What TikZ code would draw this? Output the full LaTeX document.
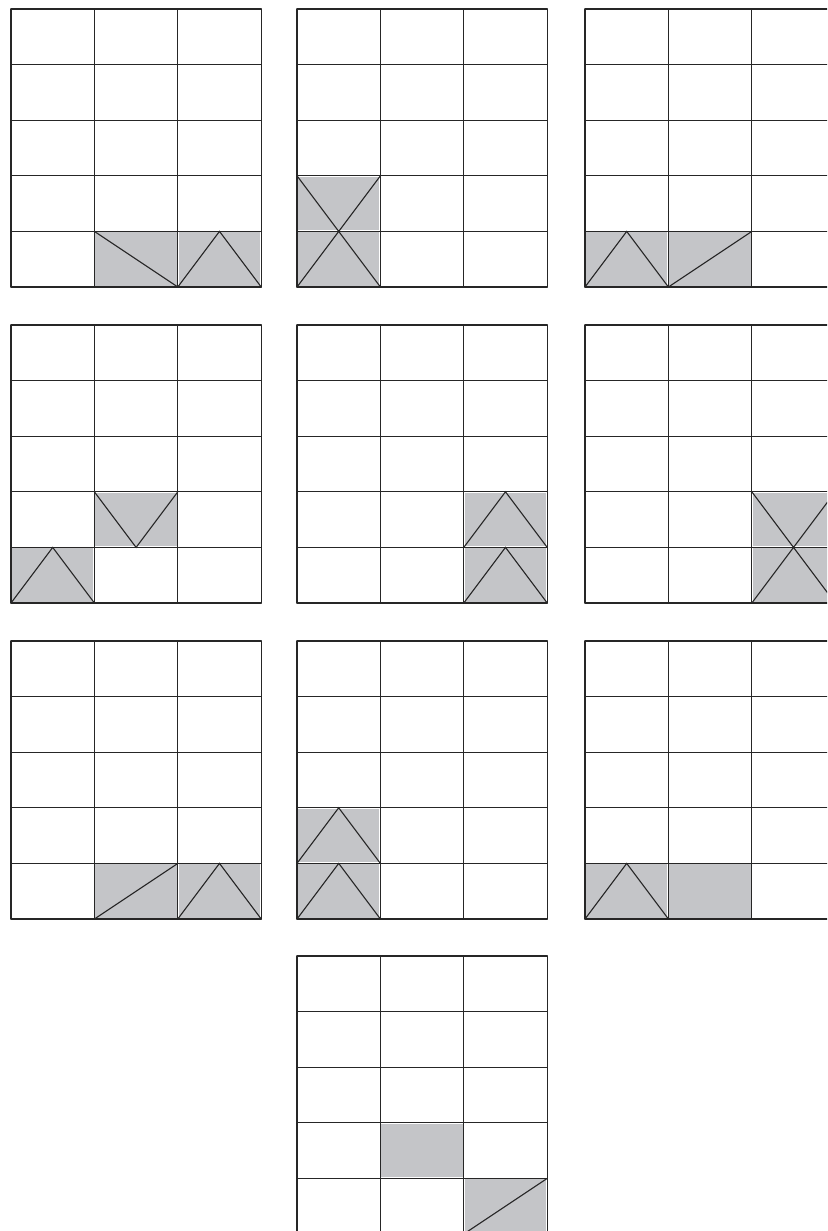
\documentclass[tikz,border=0pt]{standalone}
\usepackage{tikz}
\definecolor{TileGray}{HTML}{C4C5C8}
\definecolor{LineDark}{HTML}{262626}

% one shaded cell and the strokes drawn in it (cell coords: column, row from top)
\newcommand{\graycell}[2]{\fill[tile] ([shift={(1pt,-1pt)}]#1,#2) rectangle ([shift={(-1pt,1pt)}]#1+1,#2+1);}
\newcommand{\peak}[2]{\draw[edge] (#1,#2+1) -- (#1+0.5,#2) -- (#1+1,#2+1);}
\newcommand{\dip}[2]{\draw[edge] (#1,#2) -- (#1+0.5,#2+1) -- (#1+1,#2);}
\newcommand{\rise}[2]{\draw[edge] (#1,#2+1) -- (#1+1,#2);}
\newcommand{\fall}[2]{\draw[edge] (#1,#2) -- (#1+1,#2+1);}
\newcommand{\bigx}[2]{\draw[edge] (#1,#2) -- (#1+1,#2+2) (#1+1,#2) -- (#1,#2+2);}
\newcommand{\board}{%
  \foreach \c in {0,...,3} \draw[edge] (\c,0) -- (\c,5);
  \foreach \r in {0,...,5} \draw[edge] (0,\r) -- (3,\r);}

\begin{document}
\begin{tikzpicture}[
  x=1pt,y=-1pt,
  edge/.style={draw=LineDark,line width=1.1pt,line cap=round,line join=miter},
  tile/.style={fill=TileGray},
  panel/.style={x=83.4pt,y=-55.6pt}
]
\useasboundingbox (0,0) rectangle (827,1231);
\clip (0,0) rectangle (827,1231);

% row 1
\begin{scope}[shift={(11pt,-9pt)},panel]
  \graycell{1}{4} \graycell{2}{4}
  \board
  \fall{1}{4} \peak{2}{4}
\end{scope}
\begin{scope}[shift={(297pt,-9pt)},panel]
  \graycell{0}{3} \graycell{0}{4}
  \board
  \bigx{0}{3}
\end{scope}
\begin{scope}[shift={(585pt,-9pt)},panel]
  \graycell{0}{4} \graycell{1}{4}
  \board
  \peak{0}{4} \rise{1}{4}
\end{scope}

% row 2
\begin{scope}[shift={(11pt,-325pt)},panel]
  \graycell{1}{3} \graycell{0}{4}
  \board
  \dip{1}{3} \peak{0}{4}
\end{scope}
\begin{scope}[shift={(297pt,-325pt)},panel]
  \graycell{2}{3} \graycell{2}{4}
  \board
  \peak{2}{3} \peak{2}{4}
\end{scope}
\begin{scope}[shift={(585pt,-325pt)},panel]
  \graycell{2}{3} \graycell{2}{4}
  \board
  \bigx{2}{3}
\end{scope}

% row 3
\begin{scope}[shift={(11pt,-641pt)},panel]
  \graycell{1}{4} \graycell{2}{4}
  \board
  \rise{1}{4} \peak{2}{4}
\end{scope}
\begin{scope}[shift={(297pt,-641pt)},panel]
  \graycell{0}{3} \graycell{0}{4}
  \board
  \peak{0}{3} \peak{0}{4}
\end{scope}
\begin{scope}[shift={(585pt,-641pt)},panel]
  \graycell{0}{4} \graycell{1}{4}
  \board
  \peak{0}{4}
\end{scope}

% row 4
\begin{scope}[shift={(297pt,-956pt)},panel]
  \graycell{1}{3} \graycell{2}{4}
  \board
  \rise{2}{4}
\end{scope}
\end{tikzpicture}
\end{document}
